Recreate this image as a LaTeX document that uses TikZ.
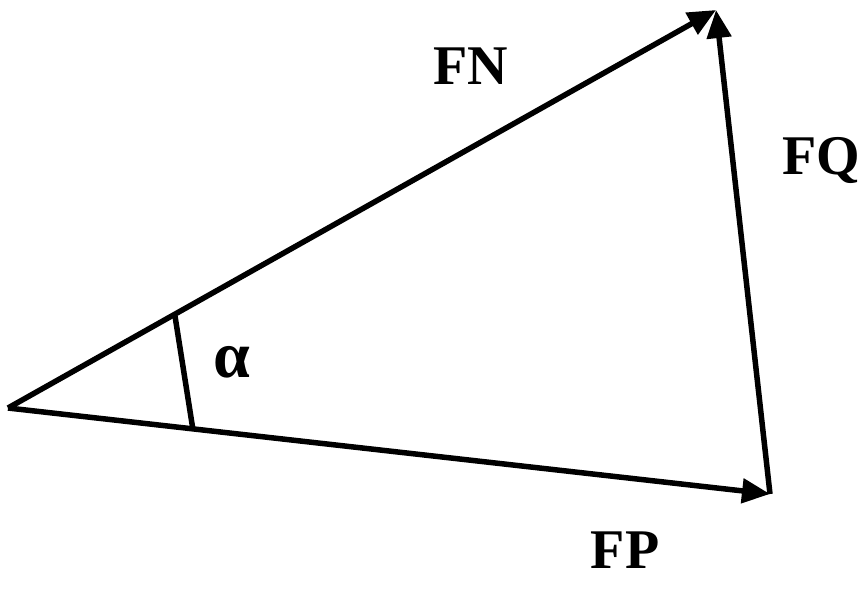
\documentclass[tikz,border=0pt]{standalone}
\usepackage{fontspec}
\setmainfont{Liberation Serif}
\usetikzlibrary{arrows.meta}
\begin{document}
\begin{tikzpicture}[x=1pt,y=-1pt,
  vec/.style={line width=5.5pt,-{Triangle[length=28pt,width=24pt]}},
  lbl/.style={font=\fontsize{56}{60}\selectfont\bfseries,inner sep=0pt}]
\useasboundingbox (0,0) rectangle (862,602);
\coordinate (A) at (8,408);
\coordinate (B) at (716,10);
\coordinate (C) at (770,494);
\coordinate (M1) at (175,316);
\coordinate (M2) at (193,430);
\draw[vec] (A) -- (B);
\draw[vec] (A) -- (C);
\draw[vec] (C) -- (B);
\draw[line width=5.5pt] (M1) -- (M2);
\node[lbl] (fn) at (471,66) {FN};
\node[lbl] (fq) at (821,160) {FQ};
\node[lbl] (fp) at (625,550) {FP};
\node[font=\fontsize{66}{70}\selectfont\bfseries,inner sep=0pt] (al) at (232,362) {α};
\end{tikzpicture}
\end{document}
